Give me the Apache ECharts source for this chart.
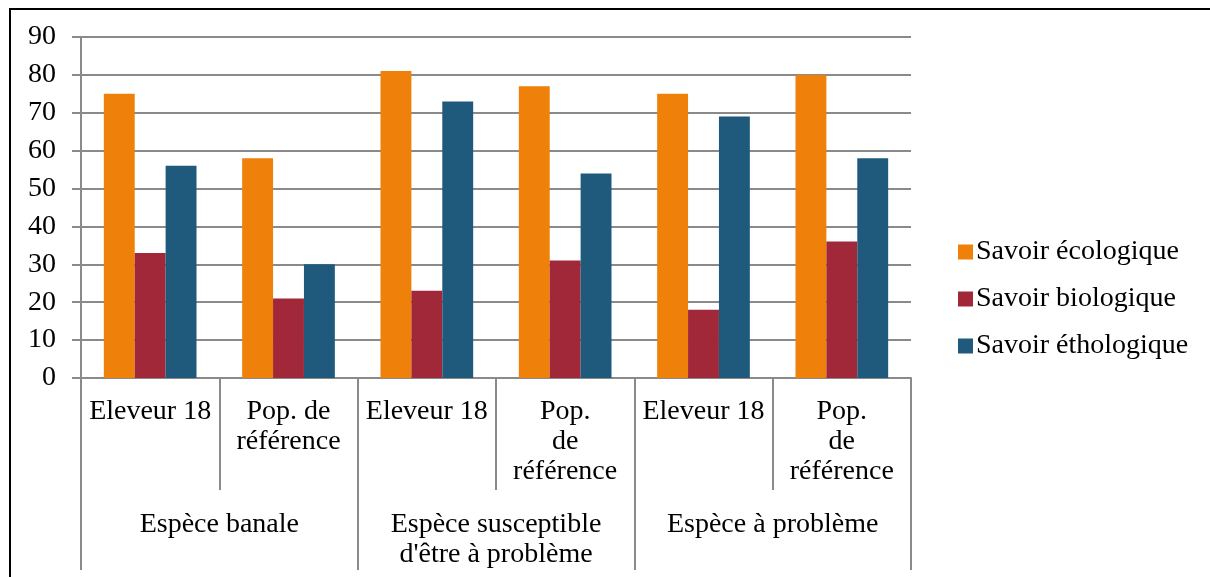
<!DOCTYPE html>
<html>
<head>
<meta charset="utf-8">
<script src="https://cdn.jsdelivr.net/npm/echarts@6/dist/echarts.min.js"></script>
<style>
  html, body { margin: 0; padding: 0; background: #fff; }
  #chart { width: 1210px; height: 577px; }
</style>
</head>
<body>
<div id="chart"></div>
<script>
// categories (two levels)
var subCategories = ['Eleveur 18', 'Pop. de\nréférence', 'Eleveur 18', 'Pop.\nde\nréférence', 'Eleveur 18', 'Pop.\nde\nréférence'];
var groupCategories = ['Espèce banale', 'Espèce susceptible\nd\'être à problème', 'Espèce à problème'];

// series values
var seriesNames = ['Savoir écologique', 'Savoir biologique', 'Savoir éthologique'];
var ecologique = [75, 58, 81, 77, 75, 80];
var biologique = [33, 21, 23, 31, 18, 36];
var ethologique = [56, 30, 73, 54, 69, 58];

// y axis ticks
var yMin = 0, yMax = 90, yStep = 10;

var colors = ['#ef800a', '#a02838', '#1f5a7c'];
var font = '"Liberation Serif", "DejaVu Serif", serif';
var gridGray = '#8a8a8a';

var chart = echarts.init(document.getElementById('chart'));

function barSeries(name, data) {
    return {
        name: name,
        type: 'bar',
        xAxisIndex: 0,
        barGap: '0%',
        barCategoryGap: '33%',
        data: data
    };
}

chart.setOption({
    color: colors,
    animation: false,
    textStyle: { fontFamily: font },
    graphic: [
        { type: 'line', shape: { x1: 9, y1: 9, x2: 1210, y2: 9 }, style: { stroke: '#000', lineWidth: 2 } },
        { type: 'line', shape: { x1: 10, y1: 8, x2: 10, y2: 577 }, style: { stroke: '#000', lineWidth: 2 } }
    ],
    legend: {
        orient: 'vertical',
        left: 953,
        top: 233,
        itemWidth: 15,
        itemHeight: 15,
        itemGap: 19,
        icon: 'rect',
        textStyle: { fontFamily: font, fontSize: 28, color: '#000', padding: [0, 0, 0, -2] },
        data: seriesNames
    },
    grid: {
        left: 81,
        right: 299,
        top: 37,
        bottom: 199,
        containLabel: false
    },
    xAxis: [
        {
            type: 'category',
            data: subCategories,
            position: 'bottom',
            axisLine: { show: true, lineStyle: { color: gridGray, width: 2 } },
            axisTick: { show: true, length: 112, lineStyle: { color: gridGray, width: 2 } },
            axisLabel: {
                interval: 0,
                margin: 19,
                verticalAlign: 'top',
                fontFamily: font,
                fontSize: 28,
                lineHeight: 30,
                color: '#000',
                align: 'center'
            }
        },
        {
            type: 'category',
            data: groupCategories,
            position: 'bottom',
            axisLine: { show: false },
            axisTick: { show: true, length: 192, lineStyle: { color: gridGray, width: 2 } },
            axisLabel: {
                interval: 0,
                margin: 132,
                verticalAlign: 'top',
                fontFamily: font,
                fontSize: 28,
                lineHeight: 30,
                color: '#000'
            }
        }
    ],
    yAxis: {
        type: 'value',
        min: yMin,
        max: yMax,
        interval: yStep,
        axisLine: { show: true, lineStyle: { color: gridGray, width: 2 } },
        axisTick: { show: true, length: 9, lineStyle: { color: gridGray, width: 2 } },
        axisLabel: {
            margin: 25,
            fontFamily: font,
            fontSize: 28,
            color: '#000'
        },
        splitLine: { show: true, lineStyle: { color: gridGray, width: 2 } }
    },
    series: [
        barSeries(seriesNames[0], ecologique),
        barSeries(seriesNames[1], biologique),
        barSeries(seriesNames[2], ethologique)
    ]
});

window.onresize = function () {
    chart.resize();
};
</script>
</body>
</html>
